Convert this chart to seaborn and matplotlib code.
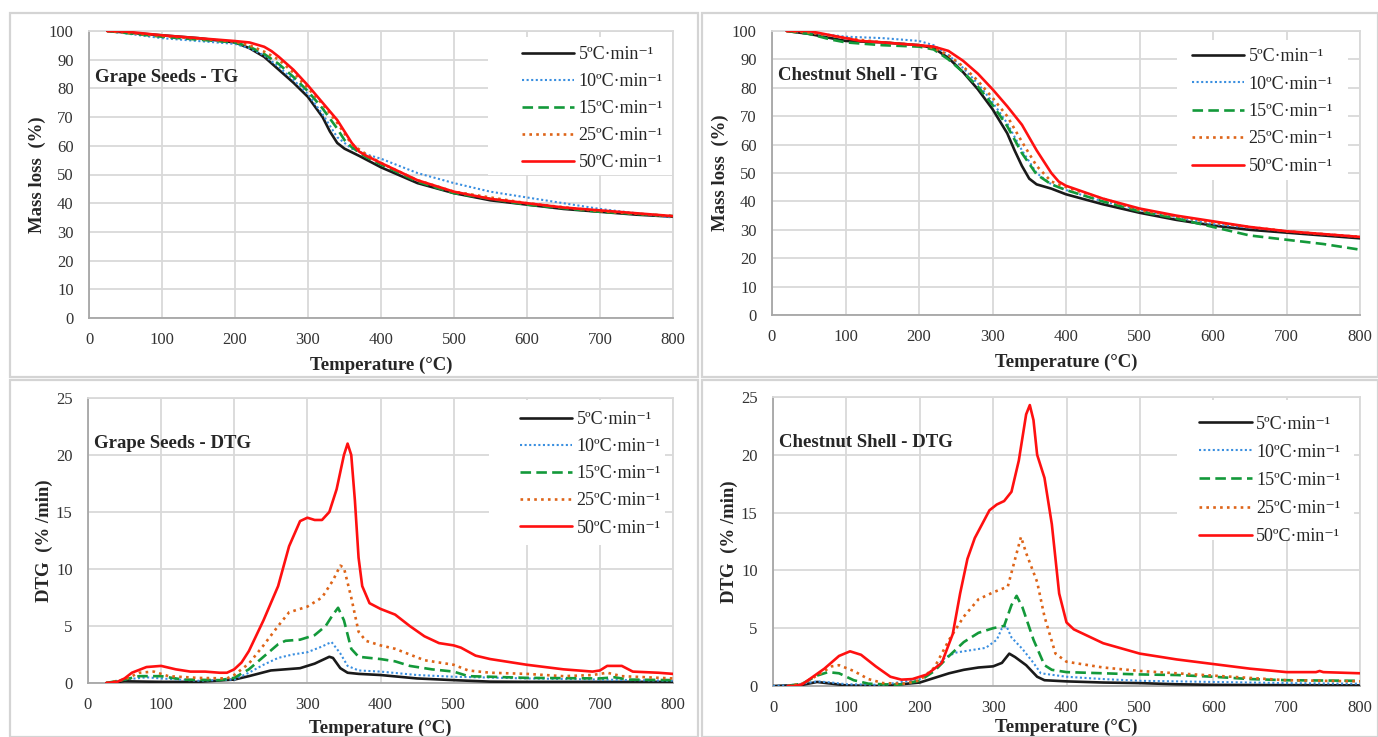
import numpy as np
import pandas as pd
import matplotlib
matplotlib.use("Agg")
import matplotlib.pyplot as plt
from matplotlib.patches import Rectangle
import seaborn as sns

# ---------------- data ----------------
rates = ["5ºC·min⁻¹", "10ºC·min⁻¹", "15ºC·min⁻¹", "25ºC·min⁻¹", "50ºC·min⁻¹"]

# Grape seeds - TG (mass %)
gs_tg_T = {
    "5":  [25, 100, 150, 200, 220, 240, 260, 280, 300, 320, 330, 340, 350, 370, 400, 450, 500, 550, 600, 650, 700, 750, 800],
    "10": [25, 100, 150, 200, 220, 240, 260, 280, 300, 320, 340, 360, 380, 400, 450, 500, 550, 600, 650, 700, 750, 800],
    "15": [25, 100, 150, 200, 220, 240, 260, 280, 300, 320, 340, 350, 360, 380, 400, 450, 500, 600, 700, 800],
    "25": [25, 100, 150, 200, 220, 240, 260, 280, 300, 320, 340, 360, 380, 400, 450, 500, 600, 700, 800],
    "50": [25, 50, 100, 150, 200, 220, 240, 250, 260, 280, 300, 320, 340, 350, 360, 370, 380, 400, 450, 500, 550, 600, 650, 700, 750, 800],
}
gs_tg_v = {
    "5":  [100, 98.5, 97.5, 96, 94, 91, 86.5, 82, 77, 70, 65, 61, 59, 56.5, 52.5, 47, 43.5, 41, 39.5, 38, 37, 36, 35.3],
    "10": [100, 97.5, 96.5, 95.5, 94, 91.5, 87.5, 83, 78, 71, 63, 59, 57, 55.5, 50.5, 47, 44, 42, 40, 38, 36.5, 35],
    "15": [100, 98, 97, 96, 94.5, 92, 88.5, 84, 79, 73, 66, 62, 59.5, 56, 53.5, 47.5, 43.5, 39.5, 37, 35.5],
    "25": [100, 98.3, 97.3, 96.3, 95, 92.8, 90, 85.5, 80, 74.5, 68, 60.5, 57, 54, 48, 44, 40, 37.2, 35.5],
    "50": [100, 99.8, 98.5, 97.5, 96.5, 96, 94.5, 93, 91, 86.5, 81, 75, 69, 65, 61, 58, 56.5, 54, 48, 44, 41.5, 40, 38.5, 37.5, 36.5, 35.5],
}

# Chestnut shell - TG (mass %)
cs_tg_T = {
    "5":  [20, 50, 80, 100, 150, 200, 220, 240, 260, 280, 300, 320, 330, 340, 350, 360, 380, 400, 450, 500, 550, 600, 650, 700, 750, 800],
    "10": [20, 50, 100, 150, 200, 220, 240, 260, 280, 300, 320, 340, 360, 380, 400, 450, 500, 600, 700, 800],
    "15": [20, 50, 80, 100, 150, 200, 220, 240, 260, 280, 300, 320, 340, 360, 380, 400, 450, 500, 550, 600, 650, 700, 750, 800],
    "25": [20, 50, 100, 150, 200, 220, 240, 260, 280, 300, 320, 340, 360, 380, 400, 450, 500, 600, 700, 800],
    "50": [20, 50, 80, 100, 120, 150, 200, 220, 240, 260, 280, 300, 320, 340, 350, 360, 380, 390, 400, 450, 500, 550, 600, 650, 700, 750, 800],
}
cs_tg_v = {
    "5":  [100, 99, 97.5, 96.5, 96, 95, 94, 90.5, 85.5, 79.5, 72.5, 64, 58, 52.5, 48, 46, 44.5, 42.5, 39, 36, 33.5, 31.5, 30, 29, 28, 27],
    "10": [100, 99.5, 98, 97.5, 96.5, 95, 91.5, 87, 81.5, 75, 67.5, 58, 50, 46, 44, 40, 37, 32, 29.5, 27.5],
    "15": [100, 99, 97, 96, 95, 94.5, 93.5, 90, 85.5, 80.5, 74, 66.5, 57, 49.5, 46, 44, 40, 36.5, 34, 31, 28, 26.5, 25, 23],
    "25": [100, 99.5, 97.5, 96, 95, 94, 91.5, 87.5, 82.5, 76.5, 70, 61, 52.5, 47, 45, 41, 37, 32.5, 29.5, 27.5],
    "50": [100, 100, 98.5, 97.5, 96.5, 96, 95, 94.5, 93, 89.5, 85, 79.5, 73.5, 67, 62.5, 58, 50, 47, 45.5, 41, 37.5, 35, 33, 31, 29.5, 28.5, 27.5],
}

# Grape seeds - DTG (%/min)
gs_dtg_T = {
    "5":  [25, 50, 100, 150, 200, 220, 250, 270, 290, 310, 320, 330, 335, 345, 355, 370, 400, 450, 500, 550, 600, 800],
    "10": [25, 50, 80, 100, 150, 200, 220, 240, 260, 280, 300, 320, 333, 345, 355, 370, 400, 450, 500, 600, 700, 800],
    "15": [25, 50, 70, 100, 130, 180, 200, 220, 240, 260, 270, 290, 310, 325, 335, 342, 350, 360, 370, 400, 420, 440, 470, 500, 520, 550, 600, 700, 720, 740, 800],
    "25": [25, 50, 70, 90, 110, 150, 190, 200, 220, 240, 260, 275, 290, 300, 320, 335, 345, 350, 360, 370, 380, 400, 420, 440, 460, 490, 500, 520, 550, 600, 650, 690, 710, 730, 800],
    "50": [25, 40, 50, 60, 80, 100, 120, 140, 160, 180, 190, 200, 210, 220, 240, 260, 275, 290, 300, 310, 320, 330, 340, 350, 355, 360, 365, 370, 375, 385, 400, 420, 440, 460, 480, 500, 510, 530, 550, 600, 650, 690, 700, 710, 730, 745, 780, 800],
}
gs_dtg_v = {
    "5":  [0, 0.15, 0.1, 0.1, 0.3, 0.6, 1.1, 1.2, 1.3, 1.7, 2.0, 2.3, 2.2, 1.3, 0.9, 0.8, 0.7, 0.4, 0.25, 0.12, 0.1, 0.1],
    "10": [0, 0.3, 0.5, 0.4, 0.2, 0.3, 0.9, 1.6, 2.2, 2.5, 2.7, 3.2, 3.6, 2.6, 1.5, 1.1, 1.0, 0.7, 0.55, 0.4, 0.3, 0.2],
    "15": [0, 0.3, 0.6, 0.6, 0.3, 0.25, 0.45, 1.2, 2.3, 3.4, 3.7, 3.8, 4.2, 5.0, 6.0, 6.6, 5.5, 3.0, 2.3, 2.1, 1.9, 1.5, 1.2, 1.0, 0.6, 0.55, 0.45, 0.4, 0.5, 0.3, 0.25],
    "25": [0, 0.3, 0.9, 1.0, 0.6, 0.45, 0.4, 0.7, 1.7, 3.3, 5.0, 6.2, 6.5, 6.7, 7.5, 9.0, 10.3, 10.1, 7.5, 4.5, 3.7, 3.3, 3.0, 2.5, 2.0, 1.7, 1.6, 1.1, 0.9, 0.8, 0.6, 0.7, 0.9, 0.6, 0.4],
    "50": [0, 0.1, 0.4, 0.9, 1.4, 1.5, 1.2, 1.0, 1.0, 0.9, 0.9, 1.2, 1.8, 2.8, 5.5, 8.5, 12.0, 14.2, 14.5, 14.3, 14.3, 15.0, 17.0, 20.0, 21.0, 20.0, 16.0, 11.0, 8.5, 7.0, 6.5, 6.0, 5.0, 4.1, 3.5, 3.3, 3.1, 2.4, 2.1, 1.6, 1.2, 1.0, 1.1, 1.5, 1.5, 1.0, 0.9, 0.8],
}

# Chestnut shell - DTG (%/min)
cs_dtg_T = {
    "5":  [0, 40, 60, 80, 100, 150, 200, 220, 240, 260, 280, 300, 312, 322, 330, 345, 360, 370, 400, 450, 500, 550, 600, 800],
    "10": [0, 20, 40, 60, 80, 100, 150, 200, 220, 235, 250, 270, 290, 305, 312, 318, 325, 340, 355, 365, 400, 450, 500, 600, 700, 800],
    "15": [20, 40, 60, 75, 90, 110, 130, 170, 200, 220, 240, 260, 280, 300, 315, 325, 332, 340, 355, 370, 380, 400, 450, 500, 550, 600, 650, 700, 800],
    "25": [20, 40, 60, 80, 90, 110, 130, 150, 180, 200, 220, 240, 260, 280, 300, 320, 330, 338, 345, 360, 370, 385, 400, 450, 500, 550, 600, 650, 700, 800],
    "50": [20, 30, 40, 50, 70, 90, 105, 120, 140, 160, 175, 190, 210, 230, 245, 255, 265, 275, 285, 295, 305, 315, 325, 335, 345, 350, 355, 360, 370, 380, 390, 400, 410, 450, 500, 550, 600, 650, 700, 740, 745, 750, 800],
}
cs_dtg_v = {
    "5":  [0, 0.1, 0.35, 0.2, 0.05, 0, 0.3, 0.7, 1.1, 1.4, 1.6, 1.7, 2.0, 2.8, 2.5, 1.8, 0.8, 0.5, 0.4, 0.3, 0.25, 0.15, 0.1, 0.05],
    "10": [0, 0.05, 0.2, 0.4, 0.3, 0.15, 0.1, 0.6, 1.5, 2.5, 2.9, 3.1, 3.3, 4.0, 5.0, 5.2, 4.2, 3.2, 2.0, 1.1, 0.8, 0.6, 0.45, 0.35, 0.25, 0.2],
    "15": [0, 0.2, 0.9, 1.2, 1.1, 0.5, 0.2, 0.1, 0.45, 1.3, 2.6, 3.8, 4.6, 5.0, 5.2, 7.0, 7.8, 6.8, 4.0, 1.8, 1.4, 1.2, 1.1, 1.0, 0.95, 0.8, 0.6, 0.5, 0.45],
    "25": [0, 0.2, 0.9, 1.7, 1.8, 1.3, 0.6, 0.25, 0.2, 0.5, 1.6, 4.0, 6.0, 7.5, 8.1, 8.6, 11.0, 12.9, 11.5, 9.0, 6.0, 2.8, 2.1, 1.6, 1.3, 1.1, 0.9, 0.7, 0.5, 0.4],
    "50": [0, 0, 0.15, 0.6, 1.5, 2.6, 3.0, 2.7, 1.7, 0.8, 0.55, 0.6, 1.0, 2.0, 4.5, 8.0, 11.0, 12.8, 14.0, 15.2, 15.7, 16.0, 16.8, 19.5, 23.5, 24.3, 23.0, 20.0, 18.0, 14.0, 8.0, 5.5, 4.9, 3.7, 2.8, 2.3, 1.9, 1.5, 1.2, 1.2, 1.3, 1.2, 1.1],
}

keys = ["5", "10", "15", "25", "50"]
colors = ["#1a1a1a", "#3a8fe0", "#13993a", "#de6418", "#ff1010"]
styles = ["-", (0, (1, 1.2)), (0, (4, 2)), (0, (1, 1.6)), "-"]
widths = [1.9, 1.5, 1.9, 1.9, 1.9]

# ---------------- style ----------------
sns.set_theme(style="white")
plt.rcParams["font.family"] = ["Liberation Serif", "DejaVu Serif"]

fig = plt.figure(figsize=(13.78, 7.37), dpi=100)
W, H = 1378, 737

# panel frames (pixels: x0, y0, x1, y1)
frames = [(10, 13, 698, 377), (702, 13, 1378, 377), (10, 380, 698, 737), (702, 380, 1378, 737)]
for x0, y0, x1, y1 in frames:
    fig.patches.append(Rectangle((x0 / W, 1 - y1 / H), (x1 - x0) / W, (y1 - y0) / H,
                                 transform=fig.transFigure, fill=False,
                                 edgecolor="#d4d4d4", linewidth=1.6))

# axes rectangles in pixels: left, top, right, bottom
boxes = [(89, 31, 673, 318), (772, 31, 1360, 315), (88, 398, 673, 683), (773, 397, 1360, 686)]

# per panel: data, title, y label, y max, y step, title y, legend backing (x0, y0, x1, y1),
# legend anchor (x, y), label spacing, y-label x, x-label pad
panels = [
    (gs_tg_T, gs_tg_v, "Grape Seeds - TG", "Mass loss  (%)", 100, 10, 0.838,
     (0.683, 0.498, 0.998, 0.979), (0.741, 0.948), 0.56, -0.074, 6),
    (cs_tg_T, cs_tg_v, "Chestnut Shell - TG", "Mass loss  (%)", 100, 10, 0.845,
     (0.689, 0.475, 0.980, 0.968), (0.714, 0.940), 0.58, -0.073, 6),
    (gs_dtg_T, gs_dtg_v, "Grape Seeds - DTG", "DTG  (% /min)", 25, 5, 0.839,
     (0.685, 0.484, 0.986, 0.993), (0.738, 0.954), 0.56, -0.060, 5),
    (cs_dtg_T, cs_dtg_v, "Chestnut Shell - DTG", "DTG  (% /min)", 25, 5, 0.841,
     (0.688, 0.505, 0.990, 0.990), (0.726, 0.935), 0.61, -0.060, 2),
]

for (l, t, r, b), (Td, Vd, title, ylab, ymax, ystep, ty, back, anchor, lsp, ylx, xlp) in zip(boxes, panels):
    ax = fig.add_axes([l / W, 1 - b / H, (r - l) / W, (b - t) / H])
    for k, c, ls, lw, lab in zip(keys, colors, styles, widths, rates):
        df = pd.DataFrame({"T": Td[k], "v": Vd[k]})
        sns.lineplot(data=df, x="T", y="v", ax=ax, color=c, linestyle=ls,
                     linewidth=lw, label=lab, sort=False, estimator=None, zorder=3)
    ax.set_xlim(0, 800)
    ax.set_ylim(0, ymax)
    ax.set_xticks(np.arange(0, 801, 100))
    ax.set_yticks(np.arange(0, ymax + 0.1, ystep))
    ax.grid(True, color="#d9d9d9", linewidth=1.3)
    ax.set_axisbelow(True)
    for side in ["top", "right"]:
        ax.spines[side].set_color("#d9d9d9")
        ax.spines[side].set_linewidth(1.3)
    for side in ["left", "bottom"]:
        ax.spines[side].set_color("#a6a6a6")
        ax.spines[side].set_linewidth(1.3)
    ax.tick_params(axis="x", length=0, labelsize=12, colors="#333333", pad=10)
    ax.tick_params(axis="y", length=0, labelsize=12, colors="#333333", pad=11)
    ax.set_xlabel("Temperature (°C)", fontsize=13.5, fontweight="bold", labelpad=xlp)
    ax.set_ylabel(ylab, fontsize=13.5, fontweight="bold")
    ax.yaxis.set_label_coords(ylx, 0.5)
    ax.text(0.01, ty, title, transform=ax.transAxes, fontsize=13.5, fontweight="bold",
            va="center", ha="left", zorder=4)
    # white backing behind the legend entries
    bx0, by0, bx1, by1 = back
    ax.add_patch(Rectangle((bx0, by0), bx1 - bx0, by1 - by0, transform=ax.transAxes,
                           facecolor="white", edgecolor="none", zorder=1))
    ax.legend(loc="upper left", bbox_to_anchor=anchor, fontsize=13,
              handlelength=2.9, labelspacing=lsp, handletextpad=0.25,
              frameon=False, borderpad=0, borderaxespad=0)

fig.savefig("out.png", dpi=100)
